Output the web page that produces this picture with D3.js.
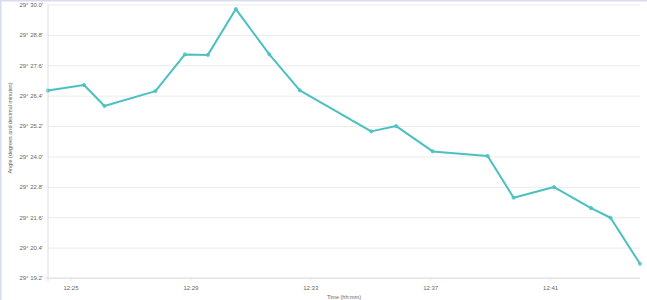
<!DOCTYPE html>
<html>
<head>
<meta charset="utf-8">
<script src="https://cdn.jsdelivr.net/npm/d3@7"></script>
<style>
  html, body { margin: 0; padding: 0; background: #fff; }
  svg { display: block; }
</style>
</head>
<body>
<svg id="chart" width="647" height="300"></svg>
<script>
// ---- data ----
const times = ["12:24:15","12:25:27","12:26:08","12:27:50","12:28:49","12:29:35","12:30:31","12:31:38","12:32:39","12:35:02","12:35:52","12:37:05","12:38:55","12:39:47","12:41:08","12:42:22","12:43:01","12:44:00"];
const degrees = 29;
const minutes = [26.60, 26.82, 25.99, 26.58, 28.03, 28.01, 29.82, 28.03, 26.61, 24.99, 25.20, 24.20, 24.02, 22.37, 22.79, 21.96, 21.58, 19.76];
const yTicks = [19.2, 20.4, 21.6, 22.8, 24.0, 25.2, 26.4, 27.6, 28.8, 30.0];
const xTickLabels = ["12:25", "12:29", "12:33", "12:37", "12:41"];
const xTitle = "Time (hh:mm)";
const yTitle = "Angle (degrees and decimal minutes)";

// ---- layout ----
const svg = d3.select("#chart");
const W = 647, H = 300;
const m = { left: 48, right: 7, top: 4.5, bottom: 22 };
const parse = d3.timeParse("%H:%M:%S");
const parseTick = d3.timeParse("%H:%M");
const data = times.map((t, i) => ({ t: parse(t), v: minutes[i] }));

const x = d3.scaleTime()
  .domain(d3.extent(data, d => d.t))
  .range([m.left, W - m.right]);
const y = d3.scaleLinear()
  .domain([yTicks[0], yTicks[yTicks.length - 1]])
  .range([H - m.bottom, m.top]);

const gridColor = "#ebebeb";
const textColor = "#666";
const font = "'Liberation Sans', Arial, sans-serif";

// frame stripes
svg.append("rect").attr("x", 0).attr("y", 0).attr("width", W).attr("height", 1.5).attr("fill", "#d9dcef");
svg.append("rect").attr("x", 0).attr("y", 0).attr("width", 1.5).attr("height", H).attr("fill", "#d9dcef");

// y grid + axis
const yAxis = d3.axisLeft(y)
  .tickValues(yTicks)
  .tickSize(-(W - m.right - m.left))
  .tickPadding(5)
  .tickFormat(v => degrees + "° " + v.toFixed(1) + "'");
const gy = svg.append("g").attr("transform", `translate(${m.left},0)`).call(yAxis);
gy.select(".domain").remove();
gy.selectAll(".tick line").attr("stroke", gridColor).attr("stroke-width", 1);
gy.selectAll(".tick text").attr("fill", textColor).style("font-family", font).style("font-size", "6px");

// x grid + axis
const xAxis = d3.axisBottom(x)
  .tickValues(xTickLabels.map(s => { const d = parseTick(s); return d; }))
  .tickSize(-(H - m.bottom - m.top))
  .tickPadding(8)
  .tickFormat(d3.timeFormat("%H:%M"));
const gx = svg.append("g").attr("transform", `translate(0,${H - m.bottom})`).call(xAxis);
gx.select(".domain").remove();
gx.selectAll(".tick line").attr("stroke", gridColor).attr("stroke-width", 1).attr("y2", 3);
gx.selectAll(".tick text").attr("fill", textColor).style("font-family", font).style("font-size", "6px");

// axis lines
svg.append("line").attr("x1", m.left).attr("x2", m.left).attr("y1", m.top).attr("y2", H - m.bottom + 3).attr("stroke", "#dedede");
svg.append("line").attr("x1", m.left - 3).attr("x2", W - m.right).attr("y1", H - m.bottom).attr("y2", H - m.bottom).attr("stroke", "#dedede");

// line
const line = d3.line().x(d => x(d.t)).y(d => y(d.v));
svg.append("path").datum(data)
  .attr("d", line)
  .attr("fill", "none")
  .attr("stroke", "rgb(75,192,192)")
  .attr("stroke-width", 2)
  .attr("stroke-linejoin", "round");

svg.selectAll("circle.pt").data(data).enter().append("circle")
  .attr("class", "pt")
  .attr("cx", d => x(d.t)).attr("cy", d => y(d.v)).attr("r", 1.6)
  .attr("fill", "rgba(75,192,192,0.5)")
  .attr("stroke", "rgb(75,192,192)").attr("stroke-width", 0.8);

// titles
svg.append("text")
  .attr("x", (m.left + W - m.right) / 2).attr("y", 299)
  .attr("text-anchor", "middle")
  .attr("fill", textColor).style("font-family", font).style("font-size", "5.5px")
  .text(xTitle);
svg.append("text")
  .attr("transform", `translate(12,${128}) rotate(-90)`)
  .attr("text-anchor", "middle")
  .attr("fill", textColor).style("font-family", font).style("font-size", "5.5px")
  .text(yTitle);
</script>
</body>
</html>
